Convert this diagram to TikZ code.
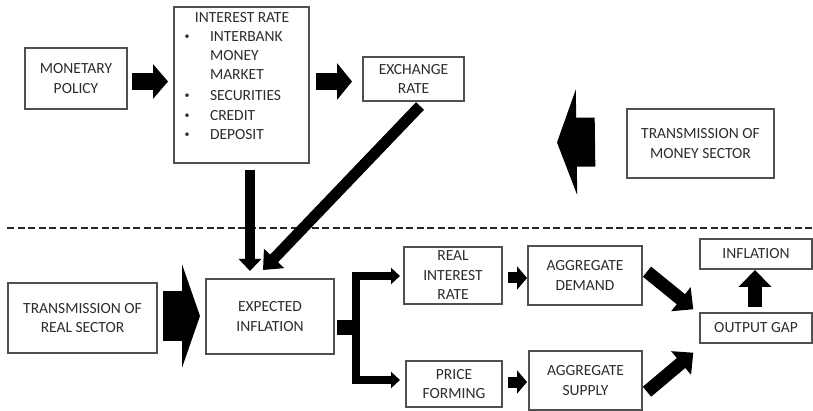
\documentclass[tikz,border=0pt]{standalone}
\usepackage{fontspec}
\setmainfont{Carlito}
\usetikzlibrary{arrows.meta,calc}
\definecolor{boxline}{HTML}{505050}
\definecolor{txt}{HTML}{2C2C2C}
\tikzset{
  box/.style={draw=boxline, line width=1.1pt, rectangle, inner sep=0pt, outer sep=0pt,
    align=center, text=txt, font=\fontsize{15.5}{19.5}\selectfont},
  lbl/.style={inner sep=0pt, outer sep=0pt, text=txt, font=\fontsize{15.5}{19.5}\selectfont},
  bul/.style={inner sep=0pt, outer sep=0pt, text=txt, font=\fontsize{10}{12}\selectfont},
  fat/.style n args={3}{draw=black, line width=#1pt, -{Triangle[width=#2pt,length=#3pt]}},
}
\begin{document}
\begin{tikzpicture}[x=1pt,y=-1pt]
\useasboundingbox (0,0) rectangle (813,411);

% boxes
\node[box, minimum width=102, minimum height=61] (mp) at (76,78.5) {MONETARY\\POLICY};
\node[box, minimum width=135, minimum height=156] (ir) at (241.5,85) {};
\node[box, minimum width=101, minimum height=44] (er) at (413.5,79) {EXCHANGE\\RATE};
\node[box, minimum width=147, minimum height=69] (tms) at (700.5,143.5) {TRANSMISSION OF\\MONEY SECTOR};
\node[box, minimum width=149, minimum height=70] (trs) at (82.5,318) {TRANSMISSION OF\\REAL SECTOR};
\node[box, minimum width=128, minimum height=75] (ei) at (270,316.5) {EXPECTED\\INFLATION};
\node[box, minimum width=98, minimum height=57] (rir) at (453,275.5) {REAL\\INTEREST\\RATE};
\node[box, minimum width=96, minimum height=46] (pf) at (454,384) {PRICE\\FORMING};
\node[box, minimum width=114, minimum height=59] (ad) at (585,275.5) {AGGREGATE\\DEMAND};
\node[box, minimum width=113, minimum height=59] (as) at (585.5,380.5) {AGGREGATE\\SUPPLY};
\node[box, minimum width=112, minimum height=30] (inf) at (756,254) {INFLATION};
\node[box, minimum width=112, minimum height=30] (og) at (756,328) {OUTPUT GAP};

% interest rate contents
\node[lbl] (irt) at (242,17.5) {INTEREST RATE};
\node[bul] (b1) at (187,37) {•};
\node[bul] (b2) at (187,96) {•};
\node[bul] (b3) at (187,116) {•};
\node[bul] (b4) at (187,135.5) {•};
\node[lbl, anchor=west] (l1) at (210,36.5) {INTERBANK};
\node[lbl, anchor=west] (l2) at (210,55.5) {MONEY};
\node[lbl, anchor=west] (l3) at (210,75) {MARKET};
\node[lbl, anchor=west] (l4) at (210,95.5) {SECURITIES};
\node[lbl, anchor=west] (l5) at (210,115.5) {CREDIT};
\node[lbl, anchor=west] (l6) at (210,135) {DEPOSIT};

% dashed separator
\coordinate (dl) at (7,228);
\coordinate (dr) at (813,228);
\draw[line width=1.4pt, dash pattern=on 7pt off 3.5pt, color=black!85] (dl) -- (dr);

% block arrows, upper part
\draw[fat={17}{34}{15}] ($(mp.east)+(5,3)$) -- ($(ir.west)+(-6,-3.5)$);
\draw[fat={17}{36}{15}] ($(ir.east)+(7,-3.5)$) -- ($(er.west)+(-11,2.5)$);
\coordinate (tmstip) at (557,142.5);
\draw[fat={49}{105}{19.5}] ($(tms.west)+(-32,-1.5)$) -- (tmstip);
\draw[fat={10}{22}{12}] ($(ir.south)+(8.5,7)$) -- ($(ei.north)+(-20,-8)$);
\draw[fat={11}{27}{16}] ($(er.south)+(6.5,5)$) -- ($(ei.north)+(-7,-9)$);

% lower part
\draw[fat={49}{103}{18}] ($(trs.east)+(6,-2)$) -- ($(ei.west)+(-6,-0.5)$);
\fill[black] ($(ei.east)+(3,3.5)$) rectangle ($(ei.east)+(22,18)$);
\coordinate (brk) at (356,327);
\draw[fat={8}{16}{9}, line join=miter] (brk) |- ($(rir.west)+(-4,0.5)$);
\draw[fat={8}{16}{9}, line join=miter] (brk) |- ($(pf.west)+(-6,-4)$);
\draw[fat={11}{23}{10}] ($(rir.east)+(6,2.5)$) -- ($(ad.west)+(-1,2.5)$);
\draw[fat={11}{23}{10}] ($(pf.east)+(6,-2)$) -- ($(as.west)+(-2,1.5)$);
\draw[fat={13}{30}{16}] ($(ad.east)+(5,-3.8)$) -- ($(og.west)+(-6.7,-18.7)$);
\draw[fat={13}{30}{16}] ($(as.east)+(5,11.2)$) -- ($(og.west)+(-6.7,24.7)$);
\draw[fat={14}{32}{17}] ($(og.north)+(-1,-6)$) -- ($(inf.south)+(-1,1)$);
\end{tikzpicture}
\end{document}
